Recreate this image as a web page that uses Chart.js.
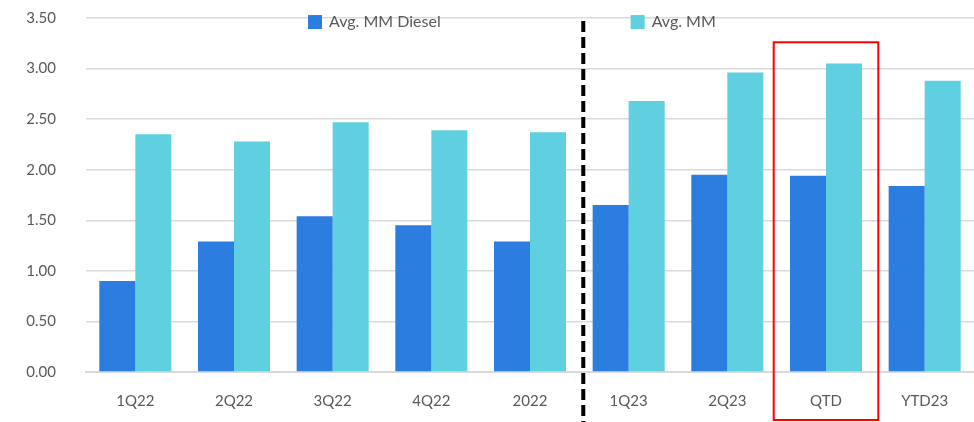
<!DOCTYPE html>
<html>
<head>
<meta charset="utf-8">
<script src="https://cdn.jsdelivr.net/npm/chart.js@4/dist/chart.umd.min.js"></script>
<style>
  body { margin: 0; background: #fff; }
  #wrap { width: 974px; height: 422px; }
</style>
</head>
<body>
<div id="wrap"><canvas id="myChart" width="974" height="422"></canvas></div>
<script>
const categories = ["1Q22", "2Q22", "3Q22", "4Q22", "2022", "1Q23", "2Q23", "QTD", "YTD23"];
const dieselValues = [0.90, 1.29, 1.54, 1.45, 1.29, 1.65, 1.95, 1.94, 1.84];
const mmValues = [2.35, 2.28, 2.47, 2.39, 2.37, 2.68, 2.96, 3.05, 2.88];
const yTicks = [0, 0.5, 1, 1.5, 2, 2.5, 3, 3.5];

const FONT = "'Lato', 'Noto Sans', sans-serif";
const TEXT = "#595959";

// dashed separator, red box round QTD, legend inside the plot
const extrasPlugin = {
  id: "extras",
  afterDatasetsDraw(chart) {
    const ctx = chart.ctx;
    const x = chart.scales.x;
    const y = chart.scales.y;
    const step = x.getPixelForValue(1) - x.getPixelForValue(0);

    const sepX = (x.getPixelForValue(4) + x.getPixelForValue(5)) / 2 + step * 0.04;
    ctx.save();
    ctx.strokeStyle = "#000";
    ctx.lineWidth = 4;
    ctx.setLineDash([11, 5]);
    ctx.beginPath();
    ctx.moveTo(sepX, y.getPixelForValue(3.47));
    ctx.lineTo(sepX, chart.height);
    ctx.stroke();
    ctx.restore();

    const qx = x.getPixelForValue(categories.indexOf("QTD"));
    ctx.save();
    ctx.strokeStyle = "#ff0000";
    ctx.lineWidth = 2;
    const top = y.getPixelForValue(3.26);
    ctx.strokeRect(qx - step * 0.53, top, step * 1.06, chart.height - 2 - top);
    ctx.restore();

    // legend
    const items = [
      { label: chart.data.datasets[0].label, color: chart.data.datasets[0].backgroundColor, cx: x.getPixelForValue(1.75) },
      { label: chart.data.datasets[1].label, color: chart.data.datasets[1].backgroundColor, cx: x.getPixelForValue(5.02) }
    ];
    const ly = y.getPixelForValue(3.46);
    ctx.save();
    ctx.font = "16px " + FONT;
    ctx.textBaseline = "middle";
    items.forEach(it => {
      ctx.fillStyle = it.color;
      ctx.fillRect(it.cx, ly - 7, 14, 14);
      ctx.fillStyle = TEXT;
      ctx.fillText(it.label, it.cx + 21, ly);
    });
    ctx.restore();
  }
};

new Chart(document.getElementById("myChart"), {
  type: "bar",
  data: {
    labels: categories,
    datasets: [
      { label: "Avg. MM Diesel", data: dieselValues, backgroundColor: "#2C7DE0", borderWidth: 0 },
      { label: "Avg. MM", data: mmValues, backgroundColor: "#5FD0E0", borderWidth: 0 }
    ]
  },
  options: {
    responsive: false,
    animation: false,
    layout: { padding: { top: 18, right: 0, left: 0, bottom: 0 } },
    plugins: { legend: { display: false }, tooltip: { enabled: false } },
    datasets: { bar: { categoryPercentage: 0.73, barPercentage: 1.0 } },
    scales: {
      x: {
        grid: { display: false },
        border: { color: "#d9d9d9", width: 2 },
        ticks: { color: TEXT, font: { family: FONT, size: 15 }, padding: 12 },
        afterFit(axis) { axis.height = 50; }
      },
      y: {
        min: 0,
        max: 3.5,
        afterBuildTicks(axis) { axis.ticks = yTicks.map(v => ({ value: v })); },
        grid: { color: "#d9d9d9", lineWidth: 1.5, drawTicks: false },
        border: { display: false },
        ticks: {
          color: TEXT,
          font: { family: FONT, size: 15 },
          padding: 30,
          callback: v => Number(v).toFixed(2)
        },
        afterFit(axis) {
          axis.width = 86;
          axis.paddingTop = 0;
          axis.paddingBottom = 0;
        }
      }
    }
  },
  plugins: [extrasPlugin]
});
</script>
</body>
</html>
